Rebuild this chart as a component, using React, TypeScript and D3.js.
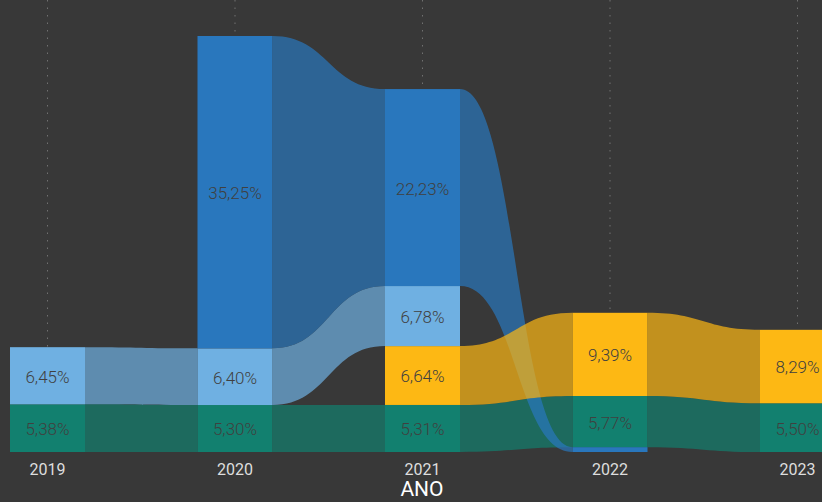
import * as d3 from "d3";

const years = ["2019", "2020", "2021", "2022", "2023"];

// share per year, null where the category is missing
const tealValues = [5.38, 5.3, 5.31, 5.77, 5.5];
const lightBlueValues = [6.45, 6.4, 6.78, null, null];
const blueValues = [null, 35.25, 22.23, 0.55, null];
const yellowValues = [null, null, 6.64, 9.39, 8.29];

const series = [
  { key: "teal", values: tealValues, color: "#12806f" },
  { key: "lightblue", values: lightBlueValues, color: "#6fb0e2" },
  { key: "blue", values: blueValues, color: "#2977bd" },
  { key: "yellow", values: yellowValues, color: "#fdb814" },
];

const W = 822;
const H = 502;
const baseY = 452;
const topY = 36;

const locale = d3.formatLocale({
  decimal: ",",
  thousands: ".",
  grouping: [3],
  currency: ["R$", ""],
});
const fmt = locale.format(".2f");

type Seg = { key: string; color: string; value: number; y0: number; y1: number };

// ribbon chart: in each year the largest value sits on top
const stacks: Record<string, Seg>[] = years.map((_, i) => {
  const present = series
    .filter((s) => s.values[i] != null)
    .map((s) => ({ key: s.key, color: s.color, value: s.values[i] as number }))
    .sort((a, b) => a.value - b.value);
  let acc = 0;
  const out: Record<string, Seg> = {};
  present.forEach((p) => {
    out[p.key] = { ...p, y0: acc, y1: acc + p.value };
    acc += p.value;
  });
  return out;
});

const maxTotal = d3.max(stacks, (s) => d3.max(Object.values(s), (d) => d.y1)) || 1;

const App = () => {
  const x = d3.scaleBand().domain(years).range([10, 835]).paddingInner(0.6).paddingOuter(0);
  const y = d3.scaleLinear().domain([0, maxTotal]).range([baseY, topY]);
  const bw = x.bandwidth();

  const ribbons: { key: string; color: string; d: string }[] = [];
  series.forEach((s) => {
    for (let i = 0; i < years.length - 1; i++) {
      const a = stacks[i][s.key];
      const b = stacks[i + 1][s.key];
      if (!a || !b) continue;
      const x0 = (x(years[i]) || 0) + bw;
      const x1 = x(years[i + 1]) || 0;
      const mx = (x0 + x1) / 2;
      const p = d3.path();
      p.moveTo(x0, y(a.y1));
      p.bezierCurveTo(mx, y(a.y1), mx, y(b.y1), x1, y(b.y1));
      p.lineTo(x1, y(b.y0));
      p.bezierCurveTo(mx, y(b.y0), mx, y(a.y0), x0, y(a.y0));
      p.closePath();
      ribbons.push({ key: s.key + i, color: s.color, d: p.toString() });
    }
  });

  return (
    <svg
      width={W}
      height={H}
      style={{ position: "absolute", left: 0, top: 0, display: "block" }}
      fontFamily="'Segoe UI', Roboto, 'Open Sans', sans-serif"
    >
      <rect width={W} height={H} fill="#383838" />
      {years.map((yr) => {
        const cx = (x(yr) || 0) + bw / 2;
        return (
          <line
            key={"g" + yr}
            x1={cx}
            x2={cx}
            y1={0}
            y2={baseY + 3}
            stroke="#707070"
            strokeWidth={1}
            strokeDasharray="1.5,6"
          />
        );
      })}
      {ribbons.map((r) => (
        <path key={r.key} d={r.d} fill={r.color} fillOpacity={0.7} />
      ))}
      {stacks.map((st, i) =>
        Object.values(st).map((seg) => {
          const bx = x(years[i]) || 0;
          const h = y(seg.y0) - y(seg.y1);
          return (
            <g key={years[i] + seg.key}>
              <rect x={bx} y={y(seg.y1)} width={bw} height={h} fill={seg.color} />
              {h > 20 && (
                <text
                  x={bx + bw / 2}
                  y={(y(seg.y0) + y(seg.y1)) / 2 + 1}
                  dy="0.35em"
                  textAnchor="middle"
                  fontSize={17}
                  fontWeight={300}
                  fill="#404040"
                >
                  {fmt(seg.value) + "%"}
                </text>
              )}
            </g>
          );
        })
      )}
      {years.map((yr) => (
        <text
          key={"t" + yr}
          x={(x(yr) || 0) + bw / 2}
          y={469}
          dy="0.35em"
          textAnchor="middle"
          fontSize={16}
          fill="#dedede"
        >
          {yr}
        </text>
      ))}
      <text x={422} y={489} dy="0.35em" textAnchor="middle" fontSize={21} fill="#ffffff">
        ANO
      </text>
    </svg>
  );
};

export default App;
